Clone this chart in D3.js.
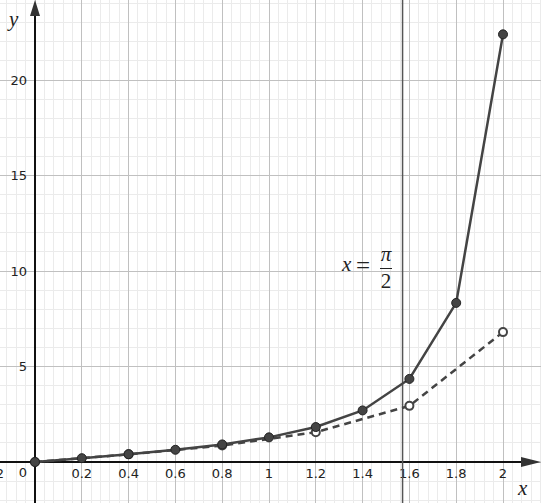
<!DOCTYPE html>
<html>
<head>
<meta charset="utf-8">
<script src="https://cdn.jsdelivr.net/npm/d3@7"></script>
<style>
  html, body { margin: 0; padding: 0; background: #fff; }
  svg { display: block; }
  .tick-label { font-family: "DejaVu Sans", sans-serif; font-size: 13px; fill: #222; }
  .math { font-family: "Liberation Serif", "DejaVu Serif", serif; font-style: italic; fill: #222; }
</style>
</head>
<body>
<svg id="chart" width="541" height="503"></svg>
<script>
// step 0.2 points (solid, filled)
const fineX = [0, 0.2, 0.4, 0.6, 0.8, 1.0, 1.2, 1.4, 1.6, 1.8, 2.0];
const fineY = [0, 0.2, 0.41, 0.64, 0.92, 1.29, 1.83, 2.70, 4.35, 8.33, 22.39];
// step 0.4 points (dashed, hollow)
const coarseX = [0, 0.4, 0.8, 1.2, 1.6, 2.0];
const coarseY = [0, 0.4, 0.86, 1.56, 2.94, 6.80];
const xTicks = [-0.2, 0.2, 0.4, 0.6, 0.8, 1, 1.2, 1.4, 1.6, 1.8, 2];
const yTicks = [5, 10, 15, 20];
const asymptote = Math.PI / 2;

const W = 541, H = 503;
const svg = d3.select('#chart');
const x = d3.scaleLinear().domain([0, 1]).range([35, 269]);
const y = d3.scaleLinear().domain([0, 20]).range([462, 80]);
const INK = '#444';

// grid: minor every 0.04 / 1, major every 0.2 / 5
const gMinor = svg.append('g'), gMajor = svg.append('g');
const xMin = x.invert(0), xMax = x.invert(W), yMin = y.invert(H), yMax = y.invert(0);
d3.range(Math.ceil(xMin / 0.04), Math.floor(xMax / 0.04) + 1).forEach(i => {
  const v = i * 0.04, major = i % 5 === 0;
  (major ? gMajor : gMinor).append('line').attr('x1', x(v)).attr('x2', x(v)).attr('y1', 0).attr('y2', H)
    .attr('stroke', major ? '#c0c0c0' : '#ebebeb').attr('shape-rendering', 'crispEdges');
});
d3.range(Math.ceil(yMin), Math.floor(yMax) + 1).forEach(v => {
  const major = v % 5 === 0;
  (major ? gMajor : gMinor).append('line').attr('y1', y(v)).attr('y2', y(v)).attr('x1', 0).attr('x2', W)
    .attr('stroke', major ? '#c0c0c0' : '#ebebeb').attr('shape-rendering', 'crispEdges');
});

// axes with arrows
const gAx = svg.append('g');
gAx.append('line').attr('x1', 0).attr('x2', W - 14).attr('y1', y(0)).attr('y2', y(0))
  .attr('stroke', '#111').attr('stroke-width', 2);
gAx.append('path').attr('d', `M${W},${y(0)} L${W - 20},${y(0) - 5} L${W - 20},${y(0) + 5} Z`).attr('fill', '#333');
gAx.append('line').attr('x1', x(0)).attr('x2', x(0)).attr('y1', 14).attr('y2', H)
  .attr('stroke', '#111').attr('stroke-width', 2);
gAx.append('path').attr('d', `M${x(0)},0 L${x(0) - 5},16 L${x(0) + 5},16 Z`).attr('fill', '#333');

// tick labels (the -0.2 one sits half off the left edge, as in the original)
xTicks.forEach(v => {
  gAx.append('text').attr('class', 'tick-label').attr('x', x(v)).attr('y', 478)
    .attr('text-anchor', 'middle').text(v < 0 ? '\u2212' + Math.abs(v) : String(v));
});
yTicks.forEach(v => {
  gAx.append('text').attr('class', 'tick-label').attr('x', 27).attr('y', y(v)).attr('dy', '0.35em')
    .attr('text-anchor', 'end').text(v);
});
gAx.append('text').attr('class', 'tick-label').attr('x', 27).attr('y', 477).attr('text-anchor', 'end').text('0');

// axis names
svg.append('text').attr('class', 'math').attr('x', 9).attr('y', 26).attr('font-size', 21).text('y');
svg.append('text').attr('class', 'math').attr('x', 518).attr('y', 495).attr('font-size', 21).text('x');

// x = pi/2
svg.append('line').attr('x1', x(asymptote)).attr('x2', x(asymptote)).attr('y1', 0).attr('y2', H)
  .attr('stroke', '#555').attr('stroke-width', 1.5);
const gLab = svg.append('g').attr('class', 'math').attr('font-size', 21);
gLab.append('text').attr('x', 342).attr('y', 271).text('x');
gLab.append('text').attr('x', 356).attr('y', 274).attr('font-size', 25).style('font-style', 'normal').text('=');
gLab.append('text').attr('x', 386).attr('y', 261).attr('text-anchor', 'middle').text('\u03c0');
gLab.append('line').attr('x1', 380).attr('x2', 392).attr('y1', 268.5).attr('y2', 268.5)
  .attr('stroke', '#222').attr('stroke-width', 1);
gLab.append('text').attr('x', 386).attr('y', 288).attr('text-anchor', 'middle').style('font-style', 'normal').text('2');

// series
const line = d3.line().x(d => x(d[0])).y(d => y(d[1]));
const coarse = coarseX.map((v, i) => [v, coarseY[i]]);
const fine = fineX.map((v, i) => [v, fineY[i]]);

svg.append('path').attr('d', line(coarse)).attr('fill', 'none')
  .attr('stroke', INK).attr('stroke-width', 2.5).attr('stroke-dasharray', '7,5');
svg.append('g').selectAll('circle').data(coarse).join('circle')
  .attr('cx', d => x(d[0])).attr('cy', d => y(d[1])).attr('r', 4)
  .attr('fill', '#fff').attr('stroke', INK).attr('stroke-width', 2);

svg.append('path').attr('d', line(fine)).attr('fill', 'none')
  .attr('stroke', INK).attr('stroke-width', 2.5);
svg.append('g').selectAll('circle').data(fine).join('circle')
  .attr('cx', d => x(d[0])).attr('cy', d => y(d[1])).attr('r', 4.5)
  .attr('fill', INK).attr('stroke', '#222').attr('stroke-width', 1);
</script>
</body>
</html>
